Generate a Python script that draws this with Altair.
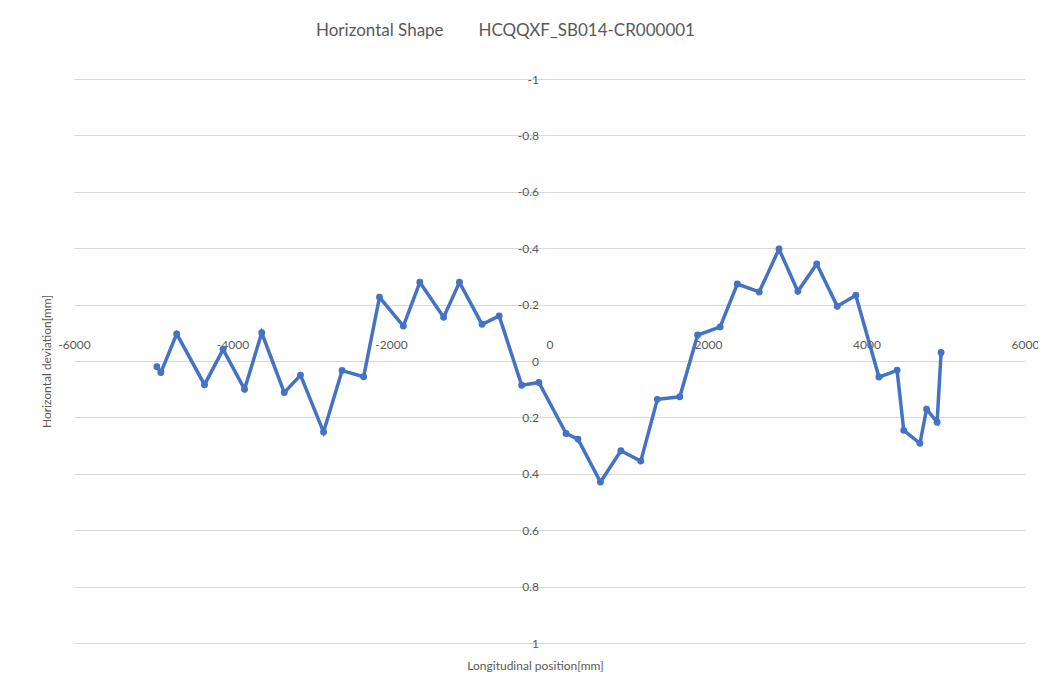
import altair as alt
import pandas as pd

positions = [-4954, -4904, -4704, -4353, -4119, -3848, -3631, -3347, -3142, -2851,
             -2617, -2345, -2145, -1844, -1636, -1336, -1136, -851, -635, -351,
             -134, 209, 359, 643, 901, 1152, 1361, 1644, 1869, 2153,
             2370, 2646, 2896, 3134, 3372, 3631, 3865, 4157, 4386, 4470,
             4674, 4758, 4891, 4941]
deviations = [0.020, 0.041, -0.096, 0.084, -0.041, 0.100, -0.100, 0.112, 0.050, 0.252,
              0.034, 0.056, -0.226, -0.124, -0.279, -0.155, -0.279, -0.130, -0.160, 0.086,
              0.076, 0.257, 0.277, 0.429, 0.318, 0.355, 0.136, 0.127, -0.092, -0.121,
              -0.273, -0.245, -0.397, -0.247, -0.344, -0.194, -0.233, 0.057, 0.033, 0.246,
              0.292, 0.171, 0.217, -0.030]
x_ticks = [-6000, -4000, -2000, 0, 2000, 4000, 6000]
y_ticks = [-1, -0.8, -0.6, -0.4, -0.2, 0, 0.2, 0.4, 0.6, 0.8, 1]

df = pd.DataFrame({"i": range(len(positions)), "x": positions, "y": deviations})

FONT = "Lato"
GREY = "#595959"
W, H = 951, 564
PL = 66

chart = alt.Chart(df).mark_line(
    color="#4472C4", strokeWidth=3.5,
    point=alt.OverlayMarkDef(filled=True, size=48, color="#4472C4")
).encode(
    x=alt.X("x:Q", scale=alt.Scale(domain=[-6000, 6000], nice=False, zero=False),
            axis=alt.Axis(orient="top", offset=-(H / 2), values=x_ticks,
                          labelExpr="'' + datum.value", grid=False, domain=False,
                          ticks=False, labelPadding=10, labelFont=FONT, labelFontSize=12,
                          labelColor=GREY, title="Longitudinal position[mm]",
                          titleFont=FONT, titleFontSize=12, titleFontWeight="normal",
                          titleColor=GREY, titleY=304, titleX=535 - 8 - PL,
                          titleBaseline="middle", labelFlush=False),
            ),
    y=alt.Y("y:Q", scale=alt.Scale(domain=[-1, 1], reverse=True, nice=False),
            axis=alt.Axis(orient="left", offset=-(W / 2), values=y_ticks,
                          labelExpr="'' + datum.value", grid=True, gridColor="#d9d9d9",
                          gridWidth=1, domain=False, ticks=False, labelPadding=11,
                          labelFont=FONT, labelFontSize=12, labelColor=GREY,
                          title="Horizontal deviation[mm]", titleFont=FONT,
                          titleFontSize=12, titleFontWeight="normal", titleColor=GREY,
                          titleX=-(W / 2) - 28, titleY=H / 2, titleAngle=-90,
                          titleAlign="center", titleBaseline="middle")),
    order="i:O",
).properties(
    width=W, height=H,
    title=alt.TitleParams(
        "Horizontal Shape\u00a0\u00a0\u00a0\u00a0\u00a0\u00a0\u00a0\u00a0HCQQXF_SB014-CR000001",
        font=FONT, fontSize=17, fontWeight="normal", color=GREY, anchor="middle",
        dx=-44, offset=33),
    autosize=alt.AutoSizeParams(type="none"),
    padding={"left": PL, "top": 71, "right": 1030 - PL - W, "bottom": 38},
).configure_view(stroke=None)

chart.save("out.html", embed_options={"renderer": "svg", "actions": False})
